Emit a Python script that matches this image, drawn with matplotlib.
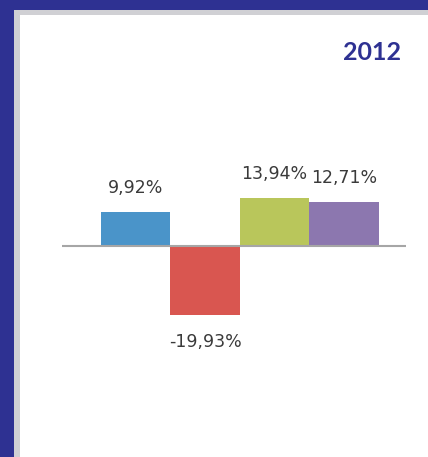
import matplotlib
matplotlib.use("Agg")
import matplotlib.pyplot as plt
from matplotlib.patches import Rectangle

# data
categories = ["A", "B", "C", "D"]
values = [9.92, -19.93, 13.94, 12.71]
labels = ["9,92%", "-19,93%", "13,94%", "12,71%"]
colors = ["#4A94C9", "#D95650", "#B9C65B", "#8C77AF"]
title = "2012"

W, H = 428, 457
fig = plt.figure(figsize=(W / 100, H / 100), dpi=100)
fig.patch.set_facecolor("#2E3192")

# gray shadow and white panel
fig.patches.append(Rectangle((14 / W, 0), 1, (H - 10) / H, transform=fig.transFigure,
                             facecolor="#D0D0D4", edgecolor="none", zorder=-2))
fig.patches.append(Rectangle((20 / W, 0), 1, (H - 15) / H, transform=fig.transFigure,
                             facecolor="white", edgecolor="none", zorder=-1))

# axes placed in pixel terms: x 62..406, y 100..400 (from top)
ax = fig.add_axes([62 / W, (H - 400) / H, 344 / W, 300 / H])
ax.set_zorder(2)
ax.patch.set_alpha(0)
x = range(len(categories))
ax.bar(x, values, width=1.0, color=colors, edgecolor="none")
ax.axhline(0, color="#A6A6A6", lw=1.5)
ax.set_xlim(-1.06, 3.89)
ax.set_ylim(-44.6, 42.3)
ax.axis("off")

for i, (v, t) in enumerate(zip(values, labels)):
    off = 7.0 if v > 0 else -7.8
    ax.text(i, v + off, t, ha="center", va="center", fontsize=12.5,
            family="DejaVu Sans", color="#3A3A3A")

fig.text(372 / W, 1 - 52 / H, title, ha="center", va="center", fontsize=18,
         fontweight="bold", family="Lato", color="#2E3192", zorder=3)

fig.savefig("out.png", dpi=100, facecolor=fig.get_facecolor())
